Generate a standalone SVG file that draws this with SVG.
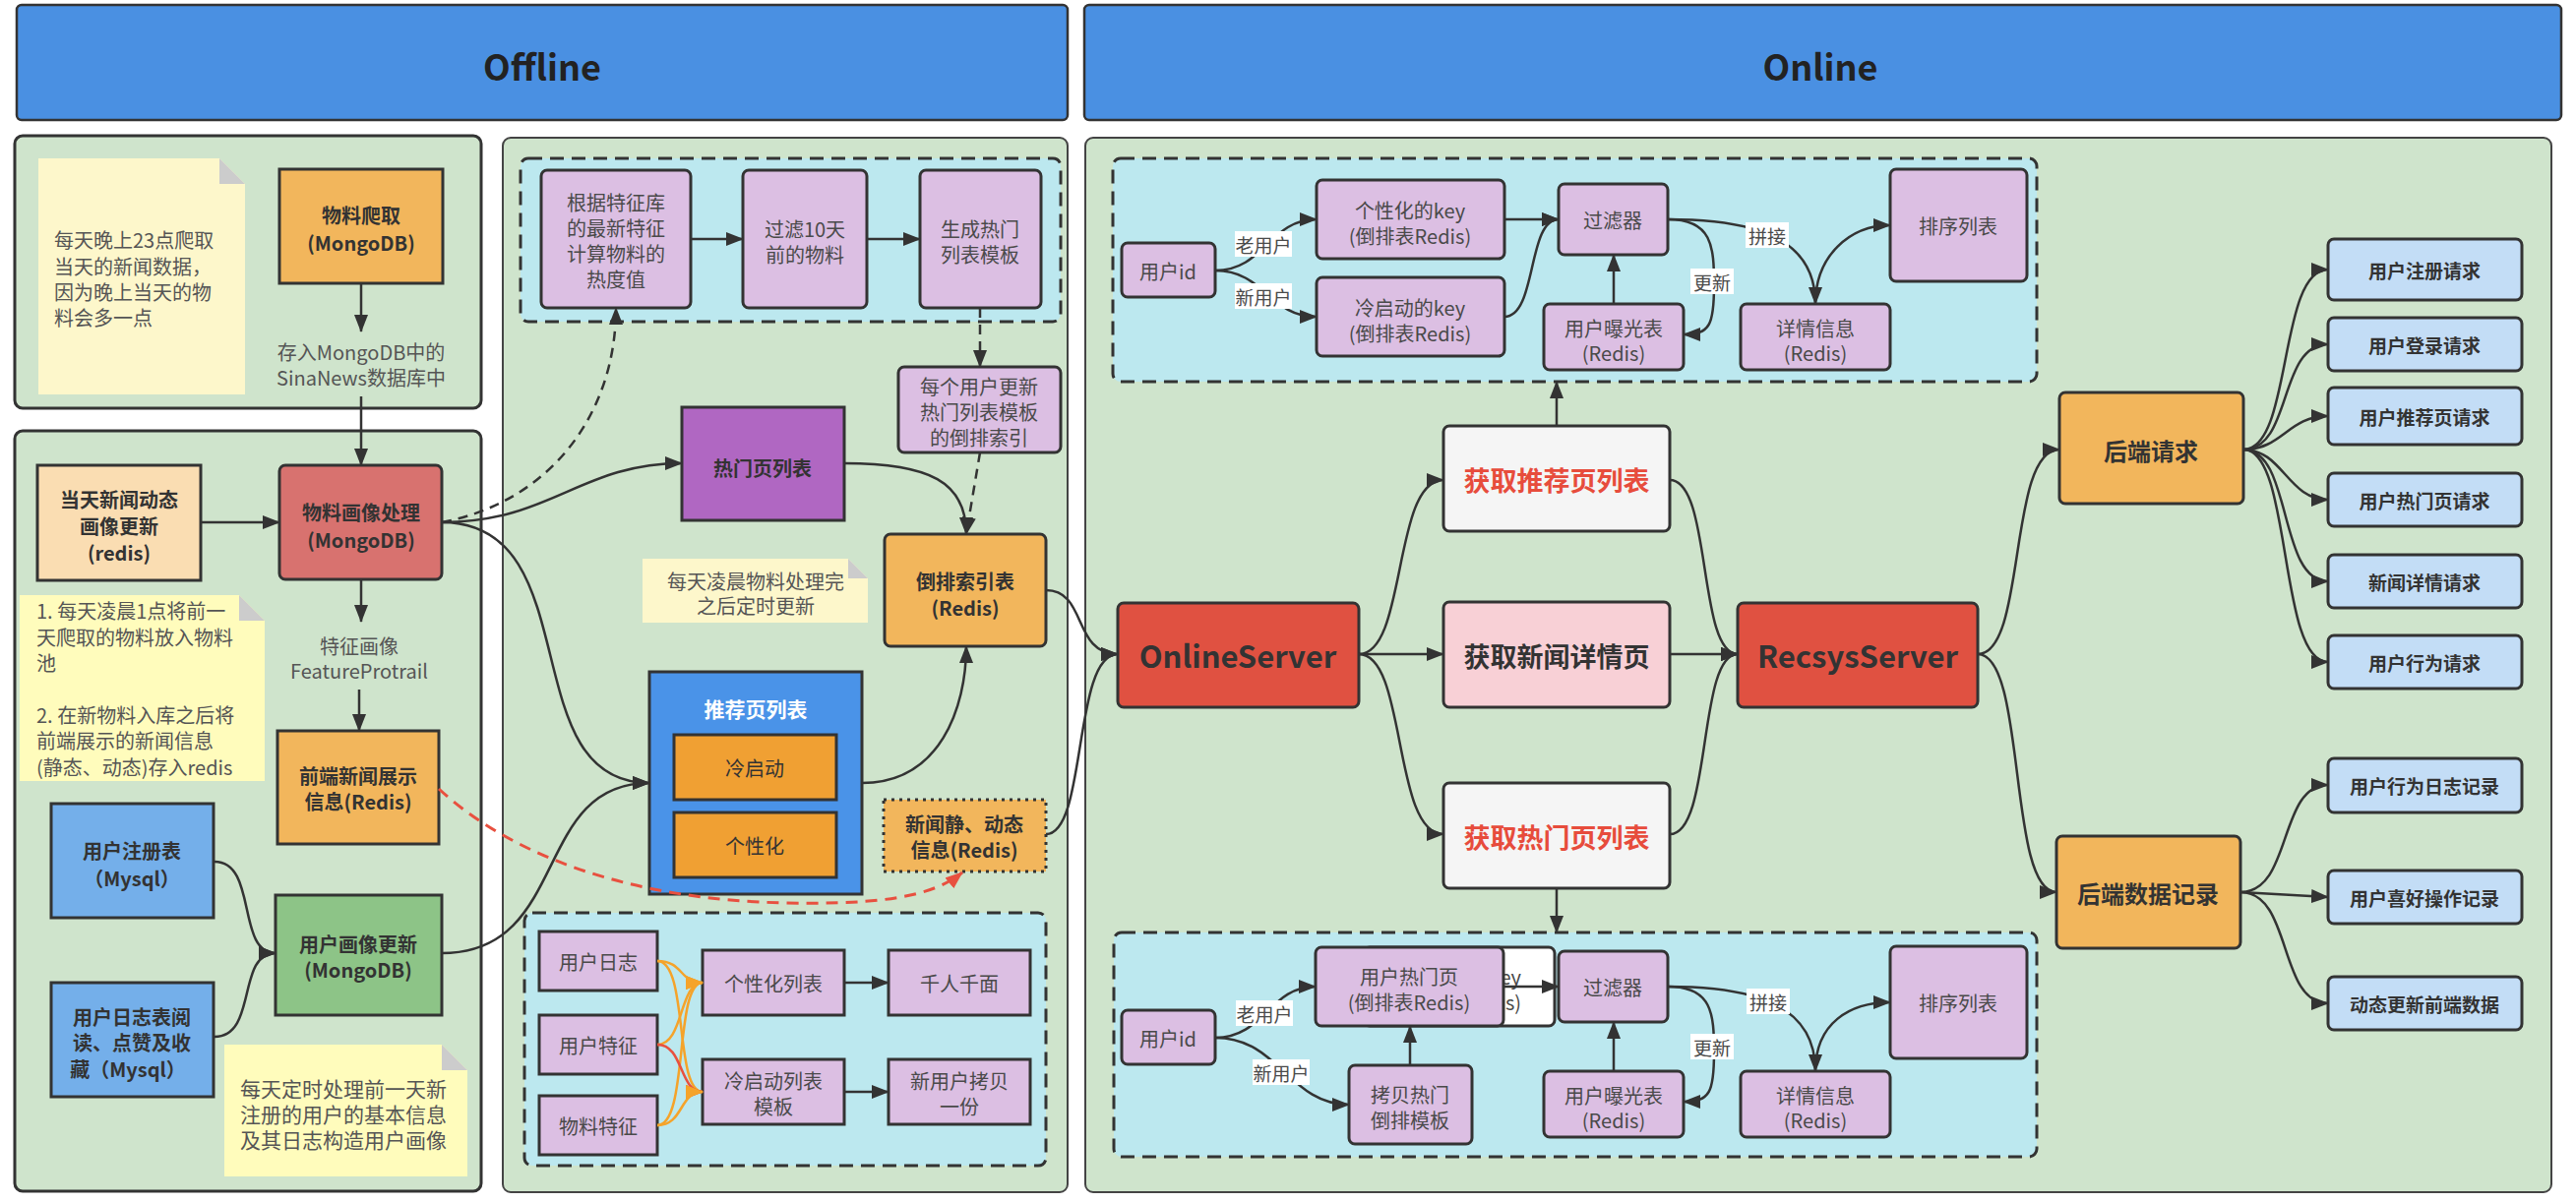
<svg xmlns="http://www.w3.org/2000/svg" width="2618" height="1222" viewBox="0 0 2618 1222">
<defs>
<style>
.t{font-family:"Noto Sans CJK SC","Noto Sans",sans-serif;text-anchor:middle;dominant-baseline:central;fill:#333;font-size:20px}
.b{font-weight:bold}
.g{fill:#4a4a4a}
.nt{font-family:"Noto Sans CJK SC","Noto Sans",sans-serif;dominant-baseline:central;fill:#555;font-size:20px}
.pl{fill:#CFE4CC;stroke:#333;stroke-width:3}
.pm{fill:#CFE4CC;stroke:#444;stroke-width:2}
.dz{fill:#BCE8EF;stroke:#333;stroke-width:3;stroke-dasharray:14 8}
.pu{fill:#DCBFE3;stroke:#333;stroke-width:3}
.or{fill:#F2B65C;stroke:#333;stroke-width:3}
.lb{fill:#C3DDF6;stroke:#333;stroke-width:3}
.fold{fill:#CCCCCC}
.e{fill:none;stroke:#333;stroke-width:2.5;marker-end:url(#ah)}
.ed{fill:none;stroke:#333;stroke-width:2.5;stroke-dasharray:10 7;marker-end:url(#ah)}
.eo{fill:none;stroke:#F5A32A;stroke-width:2.5;marker-end:url(#aho)}
.er{fill:none;stroke:#E8503F;stroke-width:2.5;marker-end:url(#ahr)}
.erd{fill:none;stroke:#E8503F;stroke-width:3;stroke-dasharray:12 8;marker-end:url(#ahr)}
.wl{fill:#fff}
</style>
<marker id="ah" viewBox="0 0 18 14" refX="17" refY="7" markerWidth="18" markerHeight="14" markerUnits="userSpaceOnUse" orient="auto"><path d="M0,0 L18,7 L0,14 z" fill="#333"/></marker>
<marker id="aho" viewBox="0 0 18 14" refX="17" refY="7" markerWidth="18" markerHeight="14" markerUnits="userSpaceOnUse" orient="auto"><path d="M0,0 L18,7 L0,14 z" fill="#F5A32A"/></marker>
<marker id="ahr" viewBox="0 0 18 14" refX="17" refY="7" markerWidth="18" markerHeight="14" markerUnits="userSpaceOnUse" orient="auto"><path d="M0,0 L18,7 L0,14 z" fill="#E8503F"/></marker>
</defs>
<rect width="2618" height="1222" fill="#fff"/>

<!-- headers -->
<g id="hdr-offline"><rect x="17" y="5" width="1068" height="117" rx="5" fill="#4A90E2" stroke="#333" stroke-width="2.5"/><text class="t b" x="551" y="66" style="font-size:36px;fill:#222">Offline</text></g>
<g id="hdr-online"><rect x="1102" y="5" width="1501" height="117" rx="5" fill="#4A90E2" stroke="#333" stroke-width="2.5"/><text class="t b" x="1850" y="66" style="font-size:36px;fill:#222">Online</text></g>

<!-- panels -->
<g id="panels">
<rect class="pl" x="15" y="138" width="474" height="277" rx="8"/>
<rect class="pl" x="15" y="438" width="474" height="773" rx="8"/>
<rect class="pm" x="511" y="140" width="574" height="1072" rx="8"/>
<rect class="pm" x="1103" y="140" width="1490" height="1072" rx="8"/>
<rect class="dz" x="529" y="161" width="549" height="166" rx="8"/>
<rect class="dz" x="533" y="928" width="530" height="257" rx="8"/>
<rect class="dz" x="1131" y="161" width="939" height="227" rx="8"/>
<rect class="dz" x="1132" y="948" width="938" height="228" rx="8"/>
</g>

<!-- notes -->
<g id="note1"><polygon points="39,161 223,161 249,187 249,401 39,401" fill="#FDF7CB"/><polygon class="fold" points="223,161 249,187 223,187"/>
<text class="nt" x="55" y="243">每天晚上23点爬取</text><text class="nt" x="55" y="270">当天的新闻数据，</text><text class="nt" x="55" y="296">因为晚上当天的物</text><text class="nt" x="55" y="322">料会多一点</text></g>
<g id="note2"><polygon points="20,605 243,605 269,631 269,794 20,794" fill="#FFFCBC"/><polygon class="fold" points="243,605 269,631 243,631"/>
<text class="nt" x="37" y="620">1. 每天凌晨1点将前一</text><text class="nt" x="37" y="647">天爬取的物料放入物料</text><text class="nt" x="37" y="673">池</text><text class="nt" x="37" y="726">2. 在新物料入库之后将</text><text class="nt" x="37" y="752">前端展示的新闻信息</text><text class="nt" x="37" y="779">(静态、动态)存入redis</text></g>
<g id="note3"><polygon points="228,1062 449,1062 475,1088 475,1196 228,1196" fill="#FFFCBC"/><polygon class="fold" points="449,1062 475,1088 449,1088"/>
<text class="nt" x="244" y="1106" style="font-size:21px">每天定时处理前一天新</text><text class="nt" x="244" y="1132" style="font-size:21px">注册的用户的基本信息</text><text class="nt" x="244" y="1158" style="font-size:21px">及其日志构造用户画像</text></g>
<g id="note4"><polygon points="653,568 862,568 882,588 882,633 653,633" fill="#FDF7CB"/><polygon class="fold" points="862,568 882,588 862,588"/>
<text class="t" x="768" y="590" style="fill:#555">每天凌晨物料处理完</text><text class="t" x="768" y="615" style="fill:#555">之后定时更新</text></g>

<!-- offline left nodes -->
<g id="n-crawl"><rect class="or" x="284" y="172" width="166" height="116"/><text class="t b" x="367" y="218">物料爬取</text><text class="t b" x="367" y="246">(MongoDB)</text></g>
<g id="lbl-store"><text class="t" x="367" y="357" style="fill:#555">存入MongoDB中的</text><text class="t" x="367" y="383" style="fill:#555">SinaNews数据库中</text></g>
<g id="n-daily"><rect x="38" y="473" width="166" height="117" fill="#FADDB2" stroke="#333" stroke-width="3"/><text class="t b" x="121" y="507">当天新闻动态</text><text class="t b" x="121" y="534">画像更新</text><text class="t b" x="121" y="561">(redis)</text></g>
<g id="n-itemproc"><rect x="284" y="473" width="165" height="116" rx="6" fill="#D8726F" stroke="#333" stroke-width="3"/><text class="t b" x="367" y="520">物料画像处理</text><text class="t b" x="367" y="548">(MongoDB)</text></g>
<g id="lbl-feat"><text class="t" x="365" y="656" style="fill:#555">特征画像</text><text class="t" x="365" y="681" style="fill:#555">FeatureProtrail</text></g>
<g id="n-front"><rect class="or" x="282" y="743" width="164" height="115"/><text class="t b" x="364" y="788">前端新闻展示</text><text class="t b" x="364" y="814">信息(Redis)</text></g>
<g id="n-userreg"><rect x="52" y="817" width="165" height="116" fill="#74AFEA" stroke="#333" stroke-width="3"/><text class="t b" x="134" y="864">用户注册表</text><text class="t b" x="134" y="892">（Mysql）</text></g>
<g id="n-userlog"><rect x="52" y="999" width="165" height="116" fill="#74AFEA" stroke="#333" stroke-width="3"/><text class="t b" x="134" y="1033">用户日志表阅</text><text class="t b" x="134" y="1059">读、点赞及收</text><text class="t b" x="130" y="1086">藏（Mysql）</text></g>
<g id="n-userproc"><rect x="280" y="910" width="169" height="122" fill="#8DC487" stroke="#333" stroke-width="3"/><text class="t b" x="364" y="959">用户画像更新</text><text class="t b" x="364" y="985">(MongoDB)</text></g>

<!-- offline middle nodes -->
<g id="n-hot-calc"><rect class="pu" x="550" y="173" width="152" height="140" rx="6"/><text class="t g" x="626" y="205">根据特征库</text><text class="t g" x="626" y="231">的最新特征</text><text class="t g" x="626" y="257">计算物料的</text><text class="t g" x="626" y="283">热度值</text></g>
<g id="n-filter10"><rect class="pu" x="755" y="173" width="126" height="140" rx="6"/><text class="t g" x="818" y="232">过滤10天</text><text class="t g" x="818" y="258">前的物料</text></g>
<g id="n-gen"><rect class="pu" x="935" y="173" width="123" height="140" rx="6"/><text class="t g" x="996" y="232">生成热门</text><text class="t g" x="996" y="258">列表模板</text></g>
<g id="n-each"><rect class="pu" x="913" y="373" width="165" height="87" rx="6"/><text class="t g" x="995" y="392">每个用户更新</text><text class="t g" x="995" y="418">热门列表模板</text><text class="t g" x="995" y="444">的倒排索引</text></g>
<g id="n-hotlist"><rect x="693" y="414" width="165" height="115" fill="#B067C2" stroke="#333" stroke-width="3"/><text class="t b" x="775" y="475">热门页列表</text></g>
<g id="n-inv"><rect class="or" x="899" y="543" width="164" height="114" rx="6"/><text class="t b" x="981" y="590">倒排索引表</text><text class="t b" x="981" y="617">(Redis)</text></g>
<g id="n-rec"><rect x="660" y="683" width="216" height="226" fill="#4A93E8" stroke="#333" stroke-width="3"/><text class="t b" x="768" y="720" style="fill:#fff;font-size:21px">推荐页列表</text>
<rect x="685" y="747" width="165" height="66" fill="#F0A033" stroke="#333" stroke-width="3"/><text class="t" x="767" y="780">冷启动</text>
<rect x="685" y="826" width="165" height="66" fill="#F0A033" stroke="#333" stroke-width="3"/><text class="t" x="767" y="859">个性化</text></g>
<g id="n-newsinfo"><rect x="898" y="813" width="165" height="73" fill="#F2B65C" stroke="#333" stroke-width="3" stroke-dasharray="3 5"/><text class="t b" x="980" y="837">新闻静、动态</text><text class="t b" x="980" y="863">信息(Redis)</text></g>
<g id="n-ulog"><rect class="pu" x="548" y="947" width="120" height="60"/><text class="t g" x="608" y="977">用户日志</text></g>
<g id="n-ufeat"><rect class="pu" x="548" y="1032" width="120" height="60"/><text class="t g" x="608" y="1062">用户特征</text></g>
<g id="n-ifeat"><rect class="pu" x="548" y="1114" width="120" height="60"/><text class="t g" x="608" y="1144">物料特征</text></g>
<g id="n-plist"><rect class="pu" x="714" y="966" width="144" height="66"/><text class="t g" x="786" y="999">个性化列表</text></g>
<g id="n-clist"><rect class="pu" x="714" y="1077" width="144" height="66"/><text class="t g" x="786" y="1098">冷启动列表</text><text class="t g" x="786" y="1124">模板</text></g>
<g id="n-qrqm"><rect class="pu" x="903" y="966" width="144" height="66"/><text class="t g" x="975" y="999">千人千面</text></g>
<g id="n-newcopy"><rect class="pu" x="903" y="1077" width="144" height="66"/><text class="t g" x="975" y="1098">新用户拷贝</text><text class="t g" x="975" y="1124">一份</text></g>

<!-- online top -->
<g id="n-uid1"><rect class="pu" x="1140" y="247" width="95" height="55" rx="6"/><text class="t g" x="1187" y="275">用户id</text></g>
<g id="n-pkey"><rect class="pu" x="1338" y="183" width="191" height="80" rx="6"/><text class="t g" x="1433" y="213">个性化的key</text><text class="t g" x="1433" y="239">(倒排表Redis)</text></g>
<g id="n-ckey"><rect class="pu" x="1338" y="282" width="191" height="80" rx="6"/><text class="t g" x="1433" y="312">冷启动的key</text><text class="t g" x="1433" y="338">(倒排表Redis)</text></g>
<g id="n-filt1"><rect class="pu" x="1584" y="187" width="111" height="72" rx="6"/><text class="t g" x="1639" y="223">过滤器</text></g>
<g id="n-exp1"><rect class="pu" x="1569" y="309" width="142" height="67" rx="6"/><text class="t g" x="1640" y="333">用户曝光表</text><text class="t g" x="1640" y="358">(Redis)</text></g>
<g id="n-det1"><rect class="pu" x="1769" y="309" width="152" height="67" rx="6"/><text class="t g" x="1845" y="333">详情信息</text><text class="t g" x="1845" y="358">(Redis)</text></g>
<g id="n-sort1"><rect class="pu" x="1921" y="172" width="139" height="114" rx="6"/><text class="t g" x="1990" y="229">排序列表</text></g>

<!-- online middle -->
<g id="n-online"><rect x="1136" y="613" width="245" height="106" rx="6" fill="#E05141" stroke="#333" stroke-width="3"/><text class="t b" x="1258" y="665" style="font-size:31px">OnlineServer</text></g>
<g id="n-getrec"><rect x="1467" y="433" width="230" height="107" rx="6" fill="#F5F5F5" stroke="#333" stroke-width="3"/><text class="t b" x="1582" y="487" style="font-size:27px;fill:#E74C3C">获取推荐页列表</text></g>
<g id="n-getdet"><rect x="1467" y="612" width="230" height="107" rx="6" fill="#F8D0D6" stroke="#333" stroke-width="3"/><text class="t b" x="1582" y="666" style="font-size:27px">获取新闻详情页</text></g>
<g id="n-gethot"><rect x="1467" y="796" width="230" height="107" rx="6" fill="#F5F5F5" stroke="#333" stroke-width="3"/><text class="t b" x="1582" y="850" style="font-size:27px;fill:#E74C3C">获取热门页列表</text></g>
<g id="n-recsys"><rect x="1766" y="613" width="244" height="106" rx="6" fill="#E05141" stroke="#333" stroke-width="3"/><text class="t b" x="1888" y="665" style="font-size:31px">RecsysServer</text></g>
<g id="n-req"><rect class="or" x="2093" y="399" width="187" height="113" rx="6"/><text class="t b" x="2186" y="457" style="font-size:24px">后端请求</text></g>
<g id="n-rec2"><rect class="or" x="2090" y="850" width="187" height="114" rx="6"/><text class="t b" x="2183" y="907" style="font-size:24px">后端数据记录</text></g>
<g id="n-r1"><rect class="lb" x="2366" y="243" width="197" height="62" rx="6"/><text class="t b" x="2464" y="274" style="font-size:19px">用户注册请求</text></g>
<g id="n-r2"><rect class="lb" x="2366" y="323" width="197" height="54" rx="6"/><text class="t b" x="2464" y="350" style="font-size:19px">用户登录请求</text></g>
<g id="n-r3"><rect class="lb" x="2366" y="394" width="197" height="58" rx="6"/><text class="t b" x="2464" y="423" style="font-size:19px">用户推荐页请求</text></g>
<g id="n-r4"><rect class="lb" x="2366" y="481" width="197" height="54" rx="6"/><text class="t b" x="2464" y="508" style="font-size:19px">用户热门页请求</text></g>
<g id="n-r5"><rect class="lb" x="2366" y="564" width="197" height="54" rx="6"/><text class="t b" x="2464" y="591" style="font-size:19px">新闻详情请求</text></g>
<g id="n-r6"><rect class="lb" x="2366" y="646" width="197" height="54" rx="6"/><text class="t b" x="2464" y="673" style="font-size:19px">用户行为请求</text></g>
<g id="n-d1"><rect class="lb" x="2366" y="771" width="197" height="55" rx="6"/><text class="t b" x="2464" y="798" style="font-size:19px">用户行为日志记录</text></g>
<g id="n-d2"><rect class="lb" x="2366" y="885" width="197" height="54" rx="6"/><text class="t b" x="2464" y="912" style="font-size:19px">用户喜好操作记录</text></g>
<g id="n-d3"><rect class="lb" x="2366" y="993" width="197" height="54" rx="6"/><text class="t b" x="2464" y="1020" style="font-size:19px">动态更新前端数据</text></g>

<!-- online bottom -->
<g id="n-uid2"><rect class="pu" x="1140" y="1027" width="95" height="55" rx="6"/><text class="t g" x="1187" y="1055">用户id</text></g>
<g id="n-pkey2"><rect x="1386" y="963" width="194" height="80" rx="6" fill="#fff" stroke="#333" stroke-width="3"/><text class="t g" x="1546" y="992" style="text-anchor:end">ey</text><text class="t g" x="1546" y="1018" style="text-anchor:end">s)</text></g>
<g id="n-uhot"><rect class="pu" x="1337" y="963" width="191" height="80" rx="6"/><text class="t g" x="1432" y="992">用户热门页</text><text class="t g" x="1432" y="1018">(倒排表Redis)</text></g>
<g id="n-copy"><rect class="pu" x="1371" y="1083" width="125" height="80" rx="6"/><text class="t g" x="1433" y="1112">拷贝热门</text><text class="t g" x="1433" y="1138">倒排模板</text></g>
<g id="n-filt2"><rect class="pu" x="1584" y="967" width="111" height="72" rx="6"/><text class="t g" x="1639" y="1003">过滤器</text></g>
<g id="n-exp2"><rect class="pu" x="1569" y="1089" width="142" height="67" rx="6"/><text class="t g" x="1640" y="1113">用户曝光表</text><text class="t g" x="1640" y="1138">(Redis)</text></g>
<g id="n-det2"><rect class="pu" x="1769" y="1089" width="152" height="67" rx="6"/><text class="t g" x="1845" y="1113">详情信息</text><text class="t g" x="1845" y="1138">(Redis)</text></g>
<g id="n-sort2"><rect class="pu" x="1921" y="962" width="139" height="114" rx="6"/><text class="t g" x="1990" y="1019">排序列表</text></g>

<!-- connectors -->
<g id="connectors">
<path class="e" d="M367,288 L367,337"/>
<path class="e" d="M367,403 L367,473"/>
<path class="e" d="M367,589 L367,632"/>
<path class="e" d="M365,701 L365,743"/>
<path class="e" d="M204,531 L284,531"/>
<path class="e" d="M218,876 C262,876 240,969 280,969"/>
<path class="e" d="M218,1054 C262,1054 240,969 280,969"/>
<path class="e" d="M449,531 C560,531 590,471 693,471"/>
<path class="ed" d="M449,531 C560,510 626,420 626,313"/>
<path class="e" d="M449,531 C600,531 520,796 660,796"/>
<path class="e" d="M449,969 C580,969 540,796 660,796"/>
<path class="erd" d="M446,802 C520,870 640,915 800,918 C900,920 950,910 978,887"/>
<path class="e" d="M702,243 L755,243"/>
<path class="e" d="M881,243 L935,243"/>
<path class="ed" d="M996,313 L996,373"/>
<path class="ed" d="M996,460 L982,543"/>
<path class="e" d="M858,471 C945,471 982,490 982,543"/>
<path class="e" d="M876,796 C955,796 982,720 982,657"/>
<path class="e" d="M1063,600 C1105,600 1090,665 1136,665"/>
<path class="e" d="M1063,848 C1105,848 1090,665 1136,665"/>
<path class="eo" d="M668,977 C695,977 690,999 714,999"/>
<path class="eo" d="M668,1062 C695,1062 690,999 714,999"/>
<path class="eo" d="M668,1144 C700,1144 685,999 714,999"/>
<path class="eo" d="M668,977 C700,977 685,1110 714,1110"/>
<path class="er" d="M668,1062 C695,1062 690,1110 714,1110"/>
<path class="eo" d="M668,1144 C695,1144 690,1110 714,1110"/>
<path class="e" d="M858,999 L903,999"/>
<path class="e" d="M858,1110 L903,1110"/>
<path class="e" d="M1381,665 C1430,665 1415,488 1467,488"/>
<path class="e" d="M1381,665 L1467,665"/>
<path class="e" d="M1381,665 C1430,665 1415,848 1467,848"/>
<path class="e" d="M1697,488 C1740,488 1725,665 1766,665"/>
<path class="e" d="M1697,665 L1766,665"/>
<path class="e" d="M1697,848 C1740,848 1725,665 1766,665"/>
<path class="e" d="M1582,433 L1582,388"/>
<path class="e" d="M1582,903 L1582,948"/>
<path class="e" d="M2010,665 C2060,665 2040,457 2093,457"/>
<path class="e" d="M2010,665 C2060,665 2040,907 2090,907"/>
<path class="e" d="M2280,457 C2330,457 2315,274 2366,274"/>
<path class="e" d="M2280,457 C2330,457 2315,350 2366,350"/>
<path class="e" d="M2280,457 C2320,457 2325,423 2366,423"/>
<path class="e" d="M2280,457 C2320,457 2325,508 2366,508"/>
<path class="e" d="M2280,457 C2330,457 2315,591 2366,591"/>
<path class="e" d="M2280,457 C2330,457 2315,673 2366,673"/>
<path class="e" d="M2277,907 C2330,907 2315,798 2366,798"/>
<path class="e" d="M2277,907 L2366,912"/>
<path class="e" d="M2277,907 C2330,907 2315,1020 2366,1020"/>
<path class="e" d="M1235,275 C1285,275 1290,223 1338,223"/>
<path class="e" d="M1235,275 C1285,275 1290,322 1338,322"/>
<path class="e" d="M1529,223 L1584,223"/>
<path class="e" d="M1529,322 C1562,322 1552,223 1584,223"/>
<path class="e" d="M1640,309 L1640,259"/>
<path class="e" d="M1695,223 C1790,223 1845,245 1845,309"/>
<path class="e" d="M1695,223 C1740,223 1742,250 1742,290 C1742,330 1738,340 1711,340"/>
<path class="e" d="M1845,309 C1845,260 1880,229 1921,229"/>
<path class="e" d="M1235,1055 C1285,1055 1290,1003 1337,1003"/>
<path class="e" d="M1235,1055 C1300,1055 1310,1123 1371,1123"/>
<path class="e" d="M1433,1083 L1433,1043"/>
<path class="e" d="M1528,1003 L1584,1003"/>
<path class="e" d="M1640,1089 L1640,1039"/>
<path class="e" d="M1695,1003 C1790,1003 1845,1025 1845,1089"/>
<path class="e" d="M1695,1003 C1740,1003 1742,1030 1742,1070 C1742,1110 1738,1120 1711,1120"/>
<path class="e" d="M1845,1089 C1845,1040 1880,1019 1921,1019"/>
</g>

<!-- edge labels -->
<g id="edge-labels">
<rect class="wl" x="1255" y="235" width="58" height="26"/><text class="t g" x="1284" y="248" style="font-size:19px">老用户</text>
<rect class="wl" x="1255" y="288" width="58" height="26"/><text class="t g" x="1284" y="301" style="font-size:19px">新用户</text>
<rect class="wl" x="1774" y="226" width="44" height="26"/><text class="t g" x="1796" y="239" style="font-size:19px">拼接</text>
<rect class="wl" x="1718" y="273" width="44" height="26"/><text class="t g" x="1740" y="286" style="font-size:19px">更新</text>
<rect class="wl" x="1256" y="1017" width="58" height="26"/><text class="t g" x="1285" y="1030" style="font-size:19px">老用户</text>
<rect class="wl" x="1273" y="1077" width="58" height="26"/><text class="t g" x="1302" y="1090" style="font-size:19px">新用户</text>
<rect class="wl" x="1775" y="1005" width="44" height="26"/><text class="t g" x="1797" y="1018" style="font-size:19px">拼接</text>
<rect class="wl" x="1718" y="1051" width="44" height="26"/><text class="t g" x="1740" y="1064" style="font-size:19px">更新</text>
</g>
</svg>
